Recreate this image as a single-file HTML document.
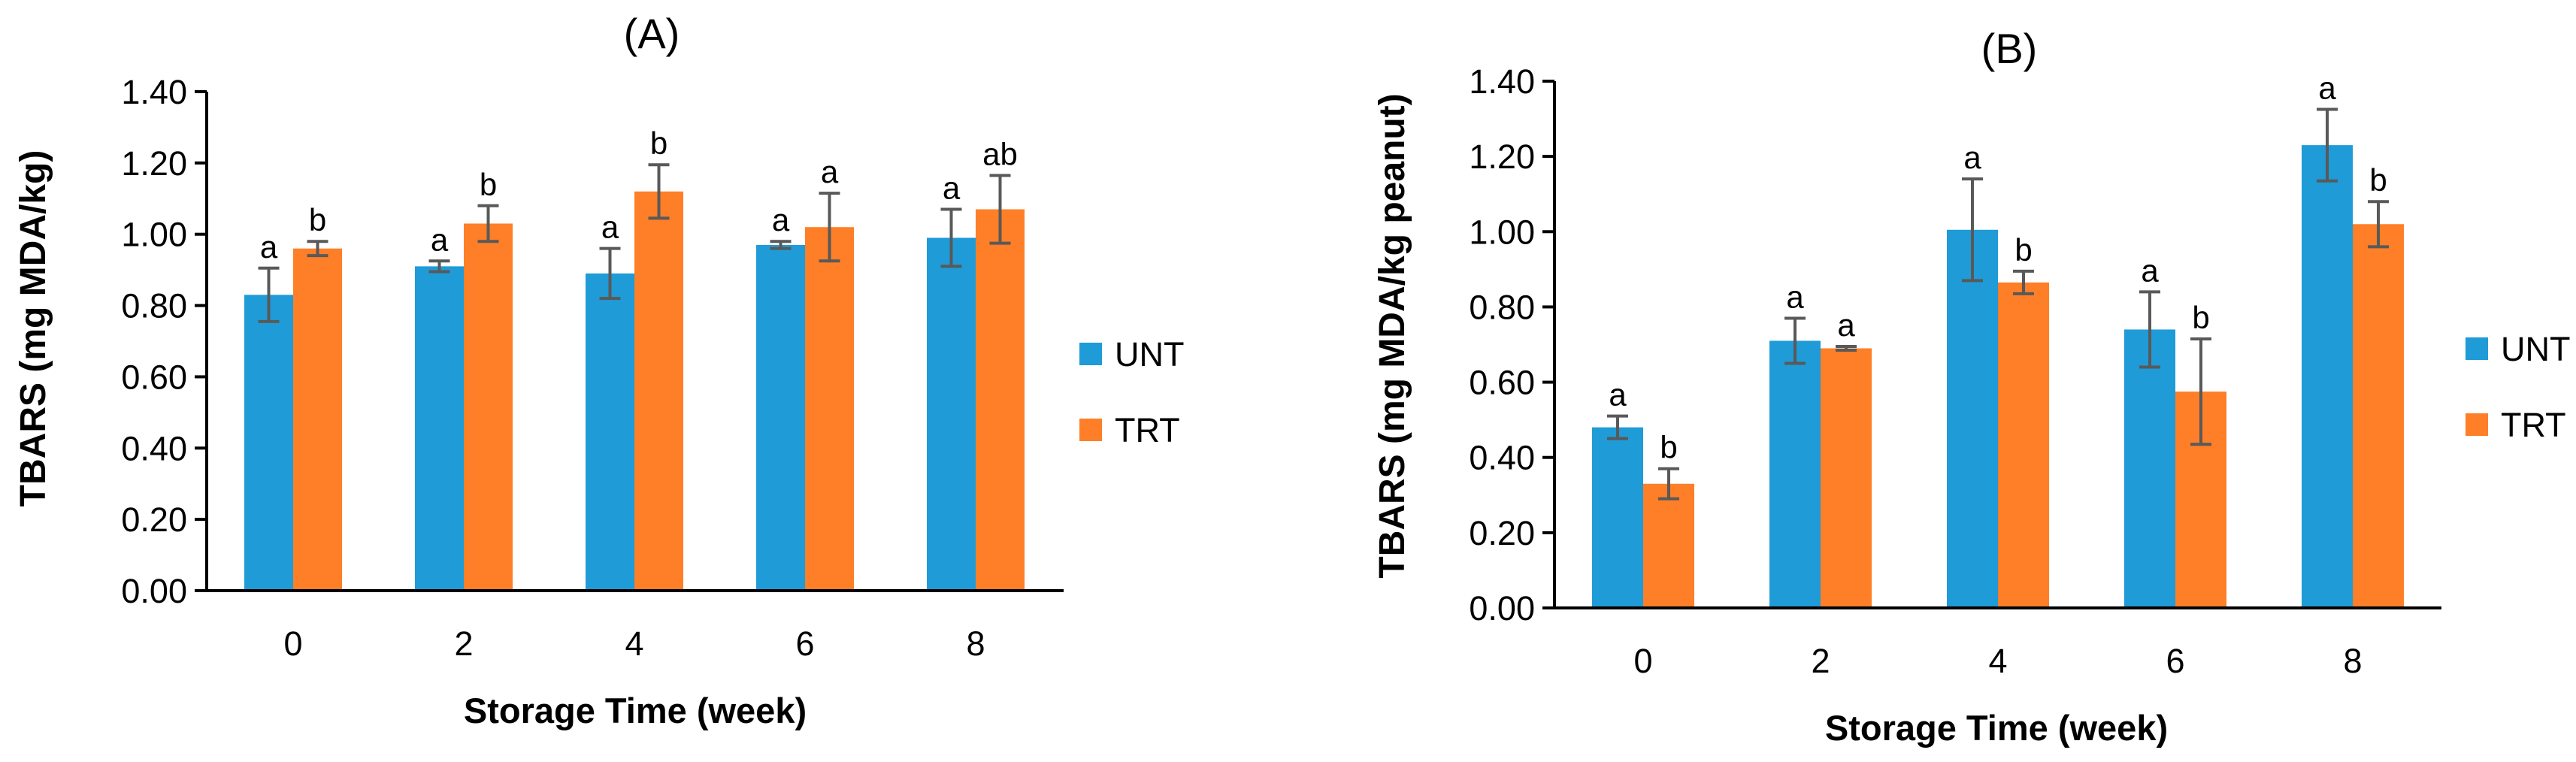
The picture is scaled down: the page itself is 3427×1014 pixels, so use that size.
<!DOCTYPE html>
<html><head><meta charset="utf-8"><style>
body{margin:0;background:#fff;}
svg text{font-family:"Liberation Sans",sans-serif;fill:#000;}
</style></head><body>
<svg id="c" width="3427" height="1009" xmlns="http://www.w3.org/2000/svg"></svg>
<script>
const categories=["0","2","4","6","8"];
const ticks=[0,0.2,0.4,0.6,0.8,1.0,1.2,1.4];
const untA=[0.83,0.91,0.89,0.97,0.99];
const trtA=[0.96,1.03,1.12,1.02,1.07];
const untAErr=[0.075,0.015,0.07,0.01,0.08];
const trtAErr=[0.02,0.05,0.075,0.095,0.095];
const untALetters=["a","a","a","a","a"];
const trtALetters=["b","b","b","a","ab"];
const untB=[0.48,0.71,1.005,0.74,1.23];
const trtB=[0.33,0.69,0.865,0.575,1.02];
const untBErr=[0.03,0.06,0.135,0.10,0.095];
const trtBErr=[0.04,0.005,0.03,0.14,0.06];
const untBLetters=["a","a","a","a","a"];
const trtBLetters=["b","a","b","b","b"];
const NS="http://www.w3.org/2000/svg";
const svg=document.getElementById('c');
function el(t,a,p){const e=document.createElementNS(NS,t);for(const k in a)e.setAttribute(k,a[k]);(p||svg).appendChild(e);return e;}
function panel(cfg){
  const g=el('g',{});
  
  
  const y=v=>cfg.base-(cfg.base-cfg.top)*v/1.4;
  const x=i=>cfg.x0+cfg.sp*i;
  ticks.forEach(t=>{
    const l=el('line',{x1:cfg.ax-16,x2:cfg.ax,y1:y(t),y2:y(t),stroke:'#000','stroke-width':4},g);
    
    
    const tx=el('text',{x:cfg.ax-26,y:y(t)+16,'font-size':45,'text-anchor':'end'},g);
    tx.textContent=t.toFixed(2);
    
    
  });
  categories.forEach((c,i)=>{
    const bars=[[cfg.unt[i],cfg.ue[i],cfg.ul[i],'#1f9bd7',-1],[cfg.trt[i],cfg.te[i],cfg.tl[i],'#fe7f27',0]];
    bars.forEach(([v,e,lab,col,off],j)=>{
      const bx=x(i)+off*cfg.bw;
      const r=el('rect',{x:bx,y:y(v),width:cfg.bw,height:cfg.base-y(v),fill:col},g);
      
      
      const cx=bx+cfg.bw/2;
      const eb=el('path',{d:`M${cx},${y(v+e)}V${y(v-e)}M${cx-14},${y(v+e)}H${cx+14}M${cx-14},${y(v-e)}H${cx+14}`,stroke:'#595959','stroke-width':4,fill:'none'},g);
      
      
      const t=el('text',{x:cx,y:y(v+e)-14,'font-size':42,'text-anchor':'middle'},g);
      t.textContent=lab;
      
      
    });
    const ct=el('text',{x:x(i),y:cfg.base+86,'font-size':45,'text-anchor':'middle'},g);
    ct.textContent=c;
    
    
  });
  const ax=el('path',{d:`M${cfg.ax},${cfg.top}V${cfg.base}H${cfg.axEnd}M${cfg.ax-16},${cfg.base}H${cfg.ax}`,stroke:'#000','stroke-width':4,fill:'none'},g);
  
  
  const tt=el('text',{x:cfg.titleX,y:cfg.titleY,'font-size':56,'text-anchor':'middle'},g);
  tt.textContent=cfg.title;
  
  
  const xt=el('text',{x:cfg.xtX,y:cfg.xtY,'font-size':47,'font-weight':'bold','text-anchor':'middle'},g);
  xt.textContent='Storage Time (week)';
  
  
  const yt=el('text',{x:0,y:0,'font-size':48,'font-weight':'bold','text-anchor':'middle',transform:`translate(${cfg.ytX},${cfg.ytY}) rotate(-90)`},g);
  yt.textContent=cfg.ytitle;
  
  
  [['UNT','#1f9bd7',cfg.legY],['TRT','#fe7f27',cfg.legY+cfg.legGap]].forEach(([n,col,ly])=>{
    const r=el('rect',{x:cfg.legX,y:ly,width:30,height:30,fill:col},g);
    
    
    const t=el('text',{x:cfg.legX+47,y:ly+31,'font-size':45},g);
    t.textContent=n;
    
    
  });
}
panel({id:'panel-a',ax:275,top:122,base:786,axEnd:1415,x0:390,sp:227,bw:65,unt:untA,trt:trtA,ue:untAErr,te:trtAErr,ul:untALetters,tl:trtALetters,title:'(A)',titleX:867,titleY:64,xtX:845,xtY:962,ytX:60,ytY:437,ytitle:'TBARS (mg MDA/kg)',legX:1436,legY:456,legGap:101});
panel({id:'panel-b',ax:2068,top:108,base:809,axEnd:3248,x0:2186,sp:236,bw:68,unt:untB,trt:trtB,ue:untBErr,te:trtBErr,ul:untBLetters,tl:trtBLetters,title:'(B)',titleX:2673,titleY:84,xtX:2656,xtY:985,ytX:1868,ytY:447,ytitle:'TBARS (mg MDA/kg peanut)',legX:3280,legY:449,legGap:101});
</script>
</body></html>
